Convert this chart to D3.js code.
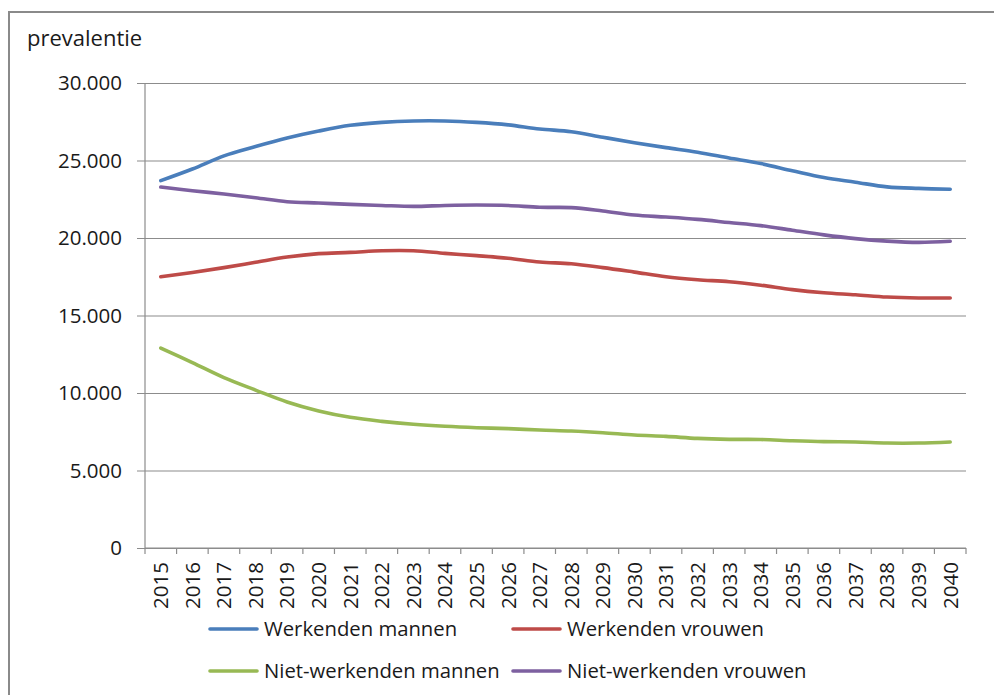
<!DOCTYPE html>
<html>
<head>
<meta charset="utf-8">
<script src="https://cdn.jsdelivr.net/npm/d3@7"></script>
<style>
  html, body { margin: 0; padding: 0; background: #fff; }
  svg { display: block; }
  text { font-family: "Open Sans", "Noto Sans", sans-serif; fill: #1a1a1a; }
</style>
</head>
<body>
<svg id="chart" width="994" height="695"></svg>
<script>
// Jaren
const years = d3.range(2015, 2041).map(String);

// Prevalentie per groep
const werkendenMannen = [23700, 24450, 25300, 25900, 26450, 26900, 27270, 27460, 27550, 27550, 27460, 27300, 27030, 26860, 26500, 26150, 25830, 25530, 25160, 24800, 24340, 23900, 23600, 23300, 23200, 23150];
const werkendenVrouwen = [17500, 17780, 18090, 18430, 18770, 18990, 19070, 19180, 19180, 19010, 18860, 18690, 18450, 18340, 18090, 17800, 17500, 17310, 17180, 16950, 16670, 16470, 16340, 16190, 16130, 16130];
const nietWerkendenMannen = [12900, 11960, 10990, 10190, 9420, 8840, 8430, 8170, 7980, 7850, 7760, 7700, 7610, 7550, 7440, 7290, 7200, 7070, 7010, 7000, 6920, 6860, 6840, 6770, 6770, 6840];
const nietWerkendenVrouwen = [23290, 23050, 22840, 22600, 22340, 22260, 22170, 22100, 22040, 22100, 22130, 22100, 21980, 21960, 21740, 21480, 21350, 21200, 21000, 20800, 20500, 20200, 19960, 19800, 19720, 19790];

const seriesNames = ["Werkenden mannen", "Werkenden vrouwen", "Niet-werkenden mannen", "Niet-werkenden vrouwen"];
const seriesColors = ["#4a7ebb", "#be4b48", "#98b954", "#7d60a0"];
const yTicks = [0, 5000, 10000, 15000, 20000, 25000, 30000];

const series = [werkendenMannen, werkendenVrouwen, nietWerkendenMannen, nietWerkendenVrouwen]
  .map((values, i) => ({ name: seriesNames[i], color: seriesColors[i], values }));

const svg = d3.select("#chart");
const plot = { left: 145, right: 966, top: 83, bottom: 548 };

// Chart frame
svg.append("rect")
  .attr("x", 9).attr("y", 12)
  .attr("width", 1000).attr("height", 700)
  .attr("fill", "#fff").attr("stroke", "#8a8a8a").attr("stroke-width", 2);

const x = d3.scaleBand().domain(years).range([plot.left, plot.right]).padding(0);
const y = d3.scaleLinear().domain([0, 30000]).range([plot.bottom, plot.top]);

const fmt = v => d3.format(",")(v).replace(/,/g, ".");

// Gridlines with left tick marks
const yAxis = d3.axisLeft(y)
  .tickValues(yTicks)
  .tickSize(-(plot.right - plot.left))
  .tickFormat("");
const gy = svg.append("g").attr("transform", `translate(${plot.left},0)`).call(yAxis);
gy.select(".domain").remove();
gy.selectAll(".tick line").attr("stroke", "#8c8c8c").attr("stroke-width", 1.2)
  .attr("x1", -8);

// Y labels
svg.append("g").selectAll("text")
  .data(yTicks).join("text")
  .attr("x", 122)
  .attr("y", d => y(d))
  .attr("dy", "0.36em")
  .attr("text-anchor", "end")
  .attr("font-size", 20.5)
  .text(d => fmt(d));

// Vertical axis line
svg.append("line")
  .attr("x1", plot.left).attr("x2", plot.left)
  .attr("y1", plot.top).attr("y2", plot.bottom)
  .attr("stroke", "#8c8c8c").attr("stroke-width", 1.2);

// X axis with category boundary ticks
const xAxisG = svg.append("g");
xAxisG.append("line")
  .attr("x1", plot.left).attr("x2", plot.right)
  .attr("y1", plot.bottom).attr("y2", plot.bottom)
  .attr("stroke", "#8c8c8c").attr("stroke-width", 1.2);
const boundaries = years.map(d => x(d)).concat([plot.right]);
xAxisG.selectAll("line.tick").data(boundaries).join("line")
  .attr("class", "tick")
  .attr("x1", d => d).attr("x2", d => d)
  .attr("y1", plot.bottom).attr("y2", plot.bottom + 6)
  .attr("stroke", "#8c8c8c").attr("stroke-width", 1.2);
xAxisG.selectAll("text").data(years).join("text")
  .attr("transform", d => `translate(${x(d) + x.bandwidth() / 2},562) rotate(-90)`)
  .attr("text-anchor", "end")
  .attr("dy", "0.36em")
  .attr("font-size", 20.5)
  .text(d => d);

// Title
svg.append("text")
  .attr("x", 27).attr("y", 46)
  .attr("font-size", 22)
  .text("prevalentie");

// Lines
const line = d3.line()
  .x((d, i) => x(years[i]) + x.bandwidth() / 2)
  .y(d => y(d))
  .curve(d3.curveCardinal.tension(0));

svg.append("g").selectAll("path")
  .data(series).join("path")
  .attr("d", d => line(d.values))
  .attr("fill", "none")
  .attr("stroke", d => d.color)
  .attr("stroke-width", 3.6)
  .attr("stroke-linecap", "round")
  .attr("stroke-linejoin", "round");

// Legend
const legendPos = [
  { lx: 210, ty: 629 }, { lx: 513, ty: 629 },
  { lx: 210, ty: 671 }, { lx: 513, ty: 671 }
];
const legend = svg.append("g").selectAll("g")
  .data(series).join("g")
  .attr("transform", (d, i) => `translate(${legendPos[i].lx},${legendPos[i].ty})`);
legend.append("line")
  .attr("x1", 0).attr("x2", 47)
  .attr("stroke", d => d.color)
  .attr("stroke-width", 3.6)
  .attr("stroke-linecap", "round");
legend.append("text")
  .attr("x", 54)
  .attr("dy", "0.36em")
  .attr("font-size", 20.3)
  .text(d => d.name);
</script>
</body>
</html>
